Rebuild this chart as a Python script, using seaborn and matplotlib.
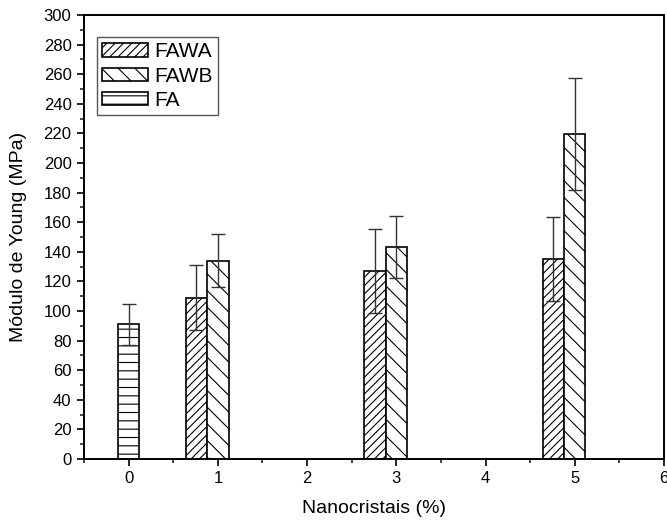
import numpy as np
import pandas as pd
import matplotlib
matplotlib.use('Agg')
import matplotlib.pyplot as plt
import seaborn as sns
from matplotlib.ticker import MultipleLocator


sns.set_theme(style='ticks')
plt.rcParams['font.family'] = ['Liberation Sans', 'DejaVu Sans']
plt.rcParams['hatch.linewidth'] = 0.8
plt.rcParams['text.color'] = 'black'
plt.rcParams['axes.labelcolor'] = 'black'

# data
conc = [1, 3, 5]
fawa = [109, 127, 135]
fawa_err = [22, 28.5, 28.5]
fawb = [134, 143, 219.5]
fawb_err = [18, 21, 38]
fa_conc = [0]
fa = [91]
fa_err = [14]

bar_w = 0.24

fig = plt.figure(figsize=(6.67, 5.26), dpi=100)
ax = fig.add_axes([0.126, 0.1274, 0.8695, 0.8441])

series = [
    ('FAWA', np.array(conc) - bar_w, fawa, fawa_err, '////'),
    ('FAWB', np.array(conc), fawb, fawb_err, '\\\\'),
    ('FA', np.array(fa_conc), fa, fa_err, '--'),
]

for name, xs, vals, errs, hatch in series:
    df = pd.DataFrame({'x': xs, 'y': vals})
    # native_scale width is relative to spacing between x values
    step = np.min(np.diff(xs)) if len(xs) > 1 else 1
    sns.barplot(data=df, x='x', y='y', native_scale=True, width=bar_w / step,
                color='white', edgecolor='black', linewidth=1.2,
                hatch=hatch, label=name, ax=ax, errorbar=None)
    ax.errorbar(xs, vals, yerr=errs, fmt='none', ecolor='#333333',
                elinewidth=1, capsize=5, capthick=1)

ax.set_xlim(-0.5, 6)
ax.set_ylim(0, 300)
ax.xaxis.set_major_locator(MultipleLocator(1))
ax.xaxis.set_minor_locator(MultipleLocator(0.5))
ax.yaxis.set_major_locator(MultipleLocator(20))
ax.yaxis.set_minor_locator(MultipleLocator(10))
ax.tick_params(which='major', direction='out', length=5, width=1.2,
               labelsize=12, colors='black', pad=4)
ax.tick_params(which='minor', direction='out', length=3, width=1.2)
for s in ax.spines.values():
    s.set_linewidth(1.4)
    s.set_color('black')

ax.set_xlabel('Nanocristais (%)', fontsize=14, labelpad=10)
ax.set_ylabel('Módulo de Young (MPa)', fontsize=14, labelpad=12)

leg = ax.legend(loc='upper left', bbox_to_anchor=(0.022, 0.95),
                borderaxespad=0, fontsize=15, handlelength=2.2,
                handleheight=0.6, labelspacing=0.25, fancybox=False,
                framealpha=1, edgecolor='#555555', borderpad=0.25,
                handletextpad=0.3)
leg.get_frame().set_linewidth(1.0)

fig.savefig('out.png', dpi=100)
